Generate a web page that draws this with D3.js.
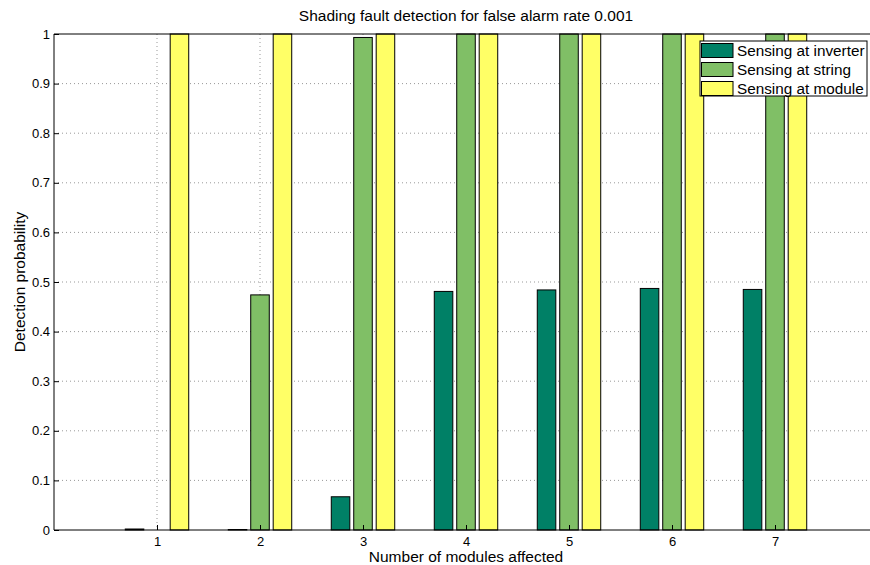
<!DOCTYPE html>
<html><head><meta charset="utf-8">
<script src="https://cdn.jsdelivr.net/npm/d3@7"></script>
<style>body{margin:0;background:#fff}svg{font-family:"Liberation Sans",Arial,sans-serif}</style>
</head><body>
<script>
const categories = [1,2,3,4,5,6,7];
const seriesNames = ["Sensing at inverter","Sensing at string","Sensing at module"];
const inverter = [0.002,0.001,0.067,0.481,0.484,0.487,0.485];
const string = [0.0,0.474,0.993,1,1,1,1];
const module = [1,1,1,1,1,1,1];
const colors = ["#008066","#80BF66","#FFFF66"];
const yTicks = [0,0.1,0.2,0.3,0.4,0.5,0.6,0.7,0.8,0.9,1];
const title = "Shading fault detection for false alarm rate 0.001";
const xLabel = "Number of modules affected";
const yLabel = "Detection probability";

const W=870,H=565;
const L=54,R=878,T=34,B=530;
const svg=d3.select("body").append("svg").attr("width",W).attr("height",H);
const x=d3.scaleLinear().domain([0,8]).range([L,R]);
const y=d3.scaleLinear().domain([0,1]).range([B,T]);
const series=[inverter,string,module];
const offs=[-0.218,0,0.218], bw=0.18;

// grid
const g=svg.append("g");
g.selectAll("line.gy").data(yTicks.slice(1,-1)).join("line")
 .attr("x1",L).attr("x2",R).attr("y1",d=>y(d)).attr("y2",d=>y(d))
 .attr("stroke","#999").attr("stroke-dasharray","1,3");
g.selectAll("line.gx").data(categories).join("line")
 .attr("x1",d=>x(d)).attr("x2",d=>x(d)).attr("y1",T).attr("y2",B)
 .attr("stroke","#999").attr("stroke-dasharray","1,3");

// bars
series.forEach((s,i)=>{
  svg.append("g").selectAll("rect").data(s).join("rect")
   .attr("x",(d,j)=>x(categories[j]+offs[i]-bw/2))
   .attr("width",x(bw)-x(0))
   .attr("y",d=>y(d))
   .attr("height",d=>y(0)-y(d))
   .attr("fill",colors[i]).attr("stroke","#000").attr("stroke-width",1);
});

// axes
const ax=svg.append("g").attr("transform",`translate(0,${B})`)
 .call(d3.axisBottom(x).tickValues(categories).tickFormat(d3.format("d")).tickSize(-5).tickPadding(7));
ax.select(".domain").remove();
const ay=svg.append("g").attr("transform",`translate(${L},0)`)
 .call(d3.axisLeft(y).tickValues(yTicks).tickFormat(d=>d===0?"0":d===1?"1":d3.format(".1f")(d)).tickSize(-5).tickPadding(4));
ay.select(".domain").remove();
[ax,ay].forEach(a=>{a.selectAll("text").attr("font-size",13).attr("fill","#000").attr("font-family","Liberation Sans, Arial, sans-serif");a.selectAll("line").attr("stroke","#000");});
// frame lines
svg.append("line").attr("x1",L).attr("x2",R).attr("y1",B).attr("y2",B).attr("stroke","#000");
svg.append("line").attr("x1",L).attr("x2",R).attr("y1",T).attr("y2",T).attr("stroke","#000");
svg.append("line").attr("x1",L).attr("x2",L).attr("y1",T).attr("y2",B).attr("stroke","#000");

// labels
svg.append("text").attr("x",(L+R)/2).attr("y",21).attr("text-anchor","middle").attr("font-size",15.5).text(title);
svg.append("text").attr("x",(L+R)/2).attr("y",562).attr("text-anchor","middle").attr("font-size",15.5).text(xLabel);
svg.append("text").attr("transform",`translate(25,${(T+B)/2}) rotate(-90)`).attr("text-anchor","middle").attr("font-size",15.5).text(yLabel);

// legend
const lg=svg.append("g").attr("transform","translate(700,41)");
lg.append("rect").attr("x",0).attr("y",0).attr("width",167).attr("height",55).attr("fill","#fff").attr("stroke","#000");
seriesNames.forEach((n,i)=>{
  lg.append("rect").attr("x",1.5).attr("y",2.5+i*19).attr("width",31.5).attr("height",14).attr("fill",colors[i]).attr("stroke","#000");
  lg.append("text").attr("x",37).attr("y",15+i*19).attr("font-size",15.3).text(n);
});
</script>
</body></html>
